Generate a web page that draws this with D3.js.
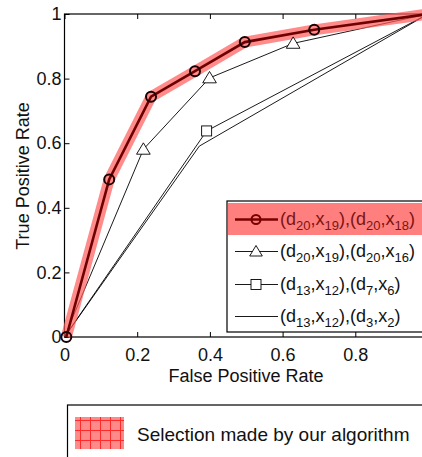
<!DOCTYPE html>
<html>
<head>
<meta charset="utf-8">
<script src="https://cdn.jsdelivr.net/npm/d3@7"></script>
<style>
body { margin: 0; background: #fff; }
svg { font-family: "Liberation Sans", Arial, sans-serif; }
</style>
</head>
<body>
<div id="chart"></div>
<script>

// ROC curves
var ourX = [0.005, 0.123, 0.238, 0.359, 0.496, 0.687, 1];
var ourY = [0.0, 0.488, 0.744, 0.823, 0.913, 0.951, 1];

var triX = [0, 0.217, 0.399, 0.629, 1];
var triY = [0, 0.581, 0.802, 0.909, 1];

var sqX = [0, 0.391, 1];
var sqY = [0, 0.638, 1];

var plainX = [0, 0.371, 1];
var plainY = [0, 0.591, 1];

var xTicks = [0, 0.2, 0.4, 0.6, 0.8, 1];
var yTicks = [0, 0.2, 0.4, 0.6, 0.8, 1];

// legend labels: [d, x, d, x] subscripts
var legendLabels = [
	["20", "19", "20", "18"],
	["20", "19", "20", "16"],
	["13", "12", "7", "6"],
	["13", "12", "3", "2"]
];
var legendMarkers = ["circle", "triangle", "square", "none"];
var noteText = "Selection made by our algorithm";

function zip(xs, ys) {
	return xs.map(function (x, i) { return [x, ys[i]]; });
}

var width = 422, height = 457;

var x = d3.scaleLinear().domain([0, 1]).range([64.5, 428]);
var y = d3.scaleLinear().domain([0, 1]).range([337, 14]);

var svg = d3.select("#chart").append("svg")
	.attr("width", width)
	.attr("height", height);

var defs = svg.append("defs");
var pat = defs.append("pattern")
	.attr("id", "grid")
	.attr("patternUnits", "userSpaceOnUse")
	.attr("width", 10)
	.attr("height", 10);
pat.append("rect").attr("width", 10).attr("height", 10).attr("fill", "#ff8a8a");
pat.append("path").attr("d", "M0 0.5H10M0.5 0V10").attr("stroke", "#ff2a2a").attr("stroke-width", 1);

// axes box
svg.append("rect")
	.attr("x", x(0))
	.attr("y", y(1))
	.attr("width", x(1) - x(0))
	.attr("height", y(0) - y(1))
	.attr("fill", "none")
	.attr("stroke", "#000")
	.attr("stroke-width", 1.2);

var fmt = function (d) { return d == 0 ? "0" : d3.format("~g")(d); };

var gx = svg.append("g").attr("transform", "translate(0," + y(0) + ")")
	.call(d3.axisBottom(x).tickValues(xTicks).tickSizeInner(-5).tickSizeOuter(0).tickFormat(fmt));
gx.select(".domain").remove();
gx.selectAll("text").attr("y", 24).attr("dy", 0).style("font-size", "18px").attr("fill", "#111");

var gxTop = svg.append("g").attr("transform", "translate(0," + y(1) + ")")
	.call(d3.axisTop(x).tickValues(xTicks).tickSizeInner(-5).tickSizeOuter(0).tickFormat(""));
gxTop.select(".domain").remove();

var gy = svg.append("g").attr("transform", "translate(" + x(0) + ",0)")
	.call(d3.axisLeft(y).tickValues(yTicks).tickSizeInner(-5).tickSizeOuter(0).tickFormat(fmt));
gy.select(".domain").remove();
gy.selectAll("text").attr("x", -3).style("font-size", "18px").attr("fill", "#111");

svg.selectAll(".tick line").attr("stroke", "#000");

svg.append("text")
	.attr("x", 246)
	.attr("y", 382)
	.attr("text-anchor", "middle")
	.style("font-size", "18px")
	.attr("fill", "#111")
	.text("False Positive Rate");

svg.append("text")
	.attr("transform", "translate(29,176) rotate(-90)")
	.attr("text-anchor", "middle")
	.style("font-size", "18px")
	.attr("fill", "#111")
	.text("True Positive Rate");

var line = d3.line().x(function (d) { return x(d[0]); }).y(function (d) { return y(d[1]); });

var plot = svg.append("g");

plot.append("path").datum(zip(plainX, plainY)).attr("d", line)
	.attr("fill", "none").attr("stroke", "#000").attr("stroke-width", 0.9);

plot.append("path").datum(zip(sqX, sqY)).attr("d", line)
	.attr("fill", "none").attr("stroke", "#000").attr("stroke-width", 0.9);

plot.append("path").datum(zip(triX, triY)).attr("d", line)
	.attr("fill", "none").attr("stroke", "#000").attr("stroke-width", 0.9);

// highlight band
plot.append("path").datum(zip(ourX, ourY)).attr("d", line)
	.attr("fill", "none").attr("stroke", "#ff5a5a").attr("stroke-opacity", 0.7)
	.attr("stroke-width", 11).attr("stroke-linejoin", "round");

plot.append("path").datum(zip(ourX, ourY)).attr("d", line)
	.attr("fill", "none").attr("stroke", "#6e0000").attr("stroke-width", 2.6);

function triPath(cx, cy, r) {
	return "M" + cx + "," + (cy - r) + "L" + (cx + r * 1.05) + "," + (cy + r * 0.75) +
		"L" + (cx - r * 1.05) + "," + (cy + r * 0.75) + "Z";
}

plot.selectAll(".tri").data(zip(triX, triY).slice(1, -1)).enter().append("path")
	.attr("d", function (d) { return triPath(x(d[0]), y(d[1]), 6.5); })
	.attr("fill", "#fff").attr("stroke", "#000").attr("stroke-width", 0.9);

plot.selectAll(".sq").data(zip(sqX, sqY).slice(1, -1)).enter().append("rect")
	.attr("x", function (d) { return x(d[0]) - 5; })
	.attr("y", function (d) { return y(d[1]) - 5; })
	.attr("width", 10).attr("height", 10)
	.attr("fill", "#fff").attr("stroke", "#000").attr("stroke-width", 0.9);

plot.selectAll(".circ").data(zip(ourX, ourY).slice(0, -1)).enter().append("circle")
	.attr("cx", function (d) { return x(d[0]); })
	.attr("cy", function (d) { return y(d[1]); })
	.attr("r", 5)
	.attr("fill", "none").attr("stroke", "#1a0000").attr("stroke-width", 2);

// legend
var leg = svg.append("g");
leg.append("rect")
	.attr("x", 227).attr("y", 201).attr("width", 200).attr("height", 131)
	.attr("fill", "#fff").attr("stroke", "#000").attr("stroke-width", 1.2);
leg.append("rect")
	.attr("x", 228).attr("y", 203).attr("width", 198).attr("height", 32)
	.attr("fill", "#ff7f7f");

var rowY = [219.5, 251.5, 284.5, 316.5];

legendLabels.forEach(function (lab, i) {
	var cy = rowY[i];
	var g = leg.append("g");
	g.append("line").attr("x1", 235).attr("x2", 278).attr("y1", cy).attr("y2", cy)
		.attr("stroke", i == 0 ? "#7a0000" : "#000").attr("stroke-width", i == 0 ? 2.6 : 0.9);
	if (legendMarkers[i] == "circle") {
		g.append("circle").attr("cx", 256).attr("cy", cy).attr("r", 4.5)
			.attr("fill", "none").attr("stroke", "#7a0000").attr("stroke-width", 2);
	} else if (legendMarkers[i] == "triangle") {
		g.append("path").attr("d", triPath(256, cy, 6)).attr("fill", "#fff").attr("stroke", "#000").attr("stroke-width", 0.9);
	} else if (legendMarkers[i] == "square") {
		g.append("rect").attr("x", 251).attr("y", cy - 5).attr("width", 10).attr("height", 10)
			.attr("fill", "#fff").attr("stroke", "#000").attr("stroke-width", 0.9);
	}
	var t = g.append("text").attr("x", 280).attr("y", cy + 5.5)
		.style("font-size", "18px").attr("fill", i == 0 ? "#7a1515" : "#111");
	function sub(s) {
		t.append("tspan").attr("dy", 4.5).style("font-size", "13px").text(s);
	}
	function up(s) {
		t.append("tspan").attr("dy", -4.5).text(s);
	}
	t.append("tspan").text("(d");
	sub(lab[0]);
	up(",x");
	sub(lab[1]);
	up("),(d");
	sub(lab[2]);
	up(",x");
	sub(lab[3]);
	up(")");
});

// bottom note box
var note = svg.append("g");
note.append("rect")
	.attr("x", 67.5).attr("y", 405).attr("width", 400).attr("height", 80)
	.attr("fill", "#fff").attr("stroke", "#000").attr("stroke-width", 1.2);
note.append("rect")
	.attr("x", 75).attr("y", 417).attr("width", 49).attr("height", 32)
	.attr("fill", "url(#grid)");
note.append("text")
	.attr("x", 137).attr("y", 440.5)
	.style("font-size", "19px").attr("fill", "#111")
	.text(noteText);

</script>
</body>
</html>
